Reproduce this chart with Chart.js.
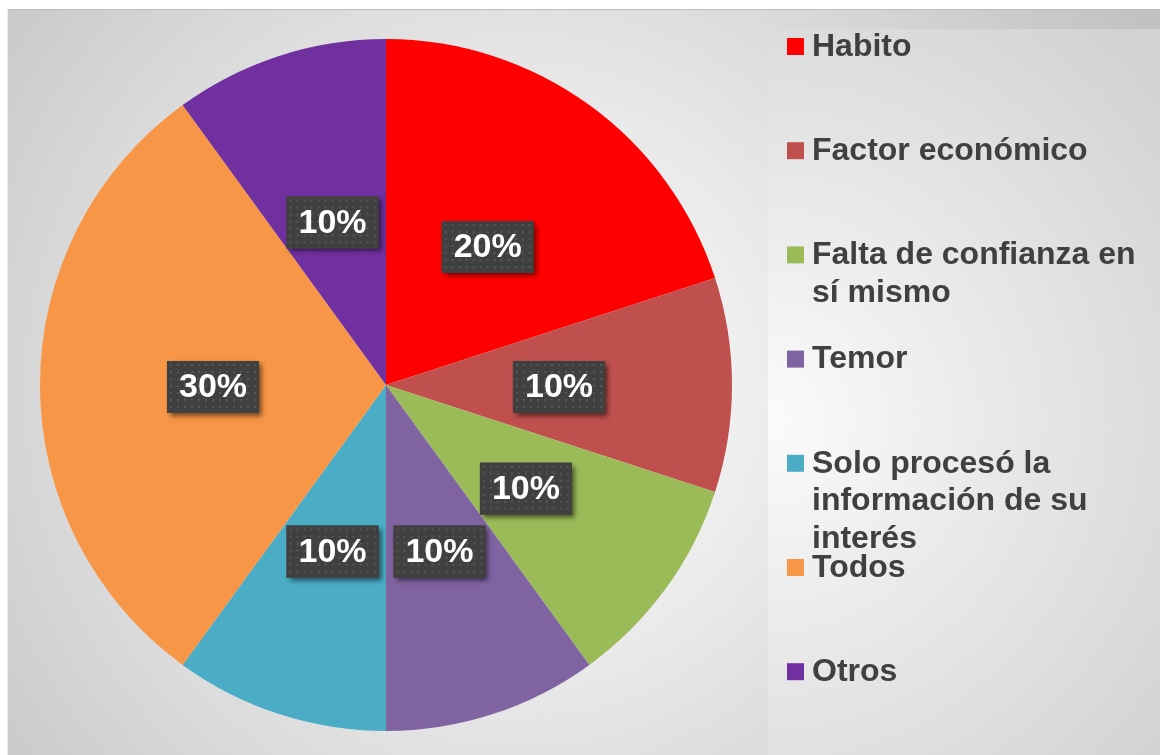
<!DOCTYPE html>
<html>
<head>
<meta charset="utf-8">
<script src="https://cdn.jsdelivr.net/npm/chart.js@4"></script>
<style>
  html, body { margin: 0; padding: 0; background: #fff; }
  #wrap { width: 1160px; height: 755px; position: relative; }
</style>
</head>
<body>
<div id="wrap"><canvas id="pieChart"></canvas></div>
<script>
// datos
const categories = ['Habito', 'Factor económico', 'Falta de confianza en sí mismo', 'Temor',
  'Solo procesó la información de su interés', 'Todos', 'Otros'];
const values = [20, 10, 10, 10, 10, 30, 10];

const sliceColors = ['#FF0000', '#C0504D', '#9BBB59', '#8064A2', '#4BACC6', '#F79646', '#7030A0'];
const FONT = '"Liberation Sans", Arial, sans-serif';

// fondo tipo Excel
const bgPlugin = {
  id: 'bg',
  beforeDraw(chart) {
    const c = chart.ctx;
    c.save();
    c.fillStyle = '#fff';
    c.fillRect(0, 0, chart.width, chart.height);
    let g = c.createRadialGradient(520, 390, 0, 520, 390, 720);
    g.addColorStop(0, '#ffffff');
    g.addColorStop(0.35, '#ececec');
    g.addColorStop(1, '#c2c2c2');
    c.fillStyle = g;
    c.fillRect(7, 9, chart.width - 7, chart.height - 9);
    // caja de leyenda
    g = c.createRadialGradient(768, 420, 0, 768, 420, 520);
    g.addColorStop(0, '#fbfbfb');
    g.addColorStop(1, '#d2d2d2');
    c.fillStyle = g;
    c.fillRect(768, 29, chart.width - 768, chart.height - 29);
    c.fillStyle = '#bdbdbd';
    c.fillRect(7, 9, chart.width - 7, 1);
    c.fillStyle = '#eeeeee';
    c.fillRect(7, 9, 1, chart.height - 9);
    c.restore();
  }
};

// patrón punteado de las etiquetas
function dotPattern(ctx) {
  const p = document.createElement('canvas');
  p.width = 7; p.height = 7;
  const pc = p.getContext('2d');
  pc.fillStyle = '#404040';
  pc.fillRect(0, 0, 7, 7);
  pc.fillStyle = '#575757';
  pc.fillRect(3, 3, 2, 2);
  return ctx.createPattern(p, 'repeat');
}

const labelPlugin = {
  id: 'pctLabels',
  afterDatasetsDraw(chart) {
    const c = chart.ctx;
    const meta = chart.getDatasetMeta(0);
    const data = chart.data.datasets[0].data;
    const total = data.reduce((a, b) => a + b, 0);
    const pat = dotPattern(c);
    c.save();
    c.font = 'bold 34px ' + FONT;
    c.textAlign = 'center';
    c.textBaseline = 'middle';
    meta.data.forEach((arc, i) => {
      const pt = arc.getCenterPoint();
      pt.y += 2;
      const txt = Math.round(data[i] / total * 100) + '%';
      const w = c.measureText(txt).width + 24;
      const h = 52;
      const x = pt.x - w / 2, y = pt.y - h / 2;
      c.save();
      c.shadowColor = 'rgba(0,0,0,0.55)';
      c.shadowBlur = 5;
      c.shadowOffsetX = 3;
      c.shadowOffsetY = 3;
      c.fillStyle = '#404040';
      c.fillRect(x, y, w, h);
      c.restore();
      c.save();
      c.translate(x, y);
      c.fillStyle = pat;
      c.fillRect(0, 0, w, h);
      c.restore();
      c.fillStyle = '#ffffff';
      c.fillText(txt, pt.x, pt.y + 1);
    });
    c.restore();
  }
};

// leyenda a la derecha
const legendPlugin = {
  id: 'sideLegend',
  afterDraw(chart) {
    const c = chart.ctx;
    const ds = chart.data.datasets[0];
    c.save();
    c.font = 'bold 32px ' + FONT;
    c.textBaseline = 'middle';
    c.textAlign = 'left';
    chart.data.labels.forEach((lab, i) => {
      const yc = 46 + i * 104.2;
      c.fillStyle = ds.backgroundColor[i];
      c.fillRect(787, yc - 8, 17, 17);
      // partir en líneas
      const words = lab.split(' ');
      const lines = [];
      let cur = '';
      words.forEach(wd => {
        const t = cur ? cur + ' ' + wd : wd;
        if (c.measureText(t).width > 335 && cur) { lines.push(cur); cur = wd; }
        else cur = t;
      });
      lines.push(cur);
      c.fillStyle = '#404040';
      lines.forEach((ln, k) => c.fillText(ln, 812, yc + 1 + k * 37.5));
    });
    c.restore();
  }
};

new Chart(document.getElementById('pieChart').getContext('2d'), {
  type: 'pie',
  data: {
    labels: categories,
    datasets: [{
      data: values,
      backgroundColor: sliceColors,
      borderWidth: 0
    }]
  },
  options: {
    responsive: true,
    maintainAspectRatio: false,
    animation: false,
    layout: { padding: { left: 40, top: 39, right: 428, bottom: 24 } },
    plugins: {
      legend: { display: false },
      tooltip: { enabled: false }
    }
  },
  plugins: [bgPlugin, labelPlugin, legendPlugin]
});
</script>
</body>
</html>
